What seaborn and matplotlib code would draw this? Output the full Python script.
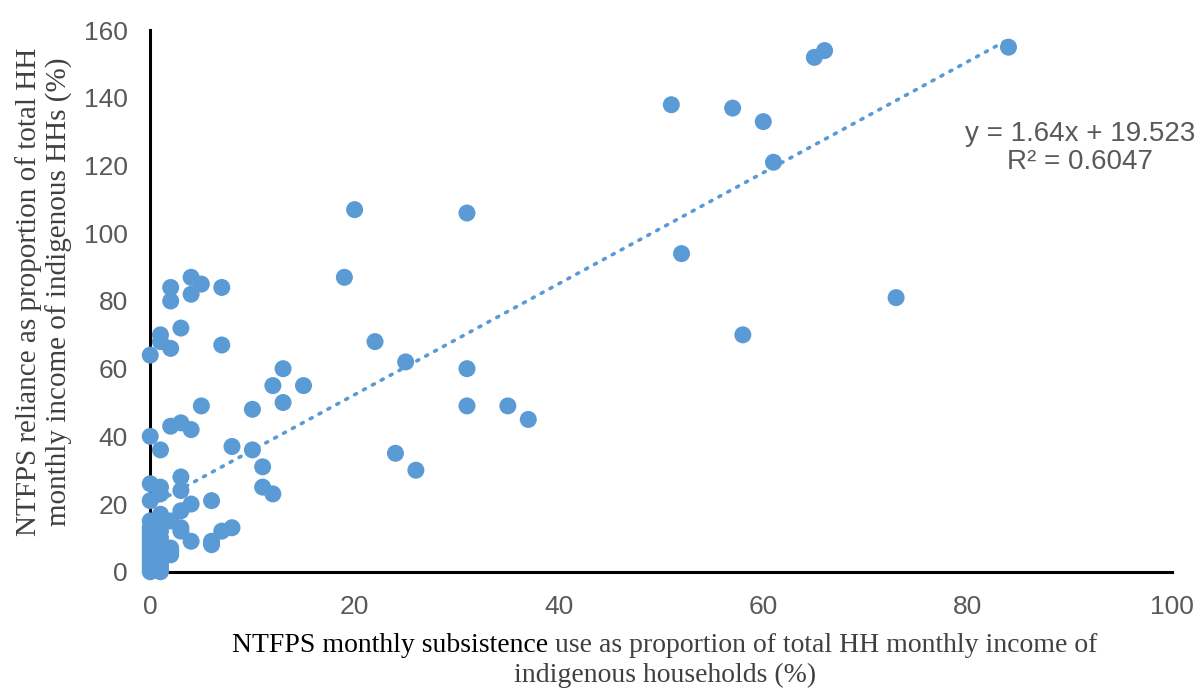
import numpy as np
import pandas as pd
import matplotlib
matplotlib.use("Agg")
import matplotlib.pyplot as plt
import seaborn as sns

# Subsistence use (% of HH monthly income) per household
subsistence = [
    84, 66, 65, 51, 57, 60, 61, 20, 31, 52, 19, 73, 58, 22, 25, 13, 31, 15, 12, 13,
    31, 35, 37, 10, 5, 8, 10, 24, 26, 11, 11, 12, 6, 8, 7, 6, 6,
    4, 2, 5, 7, 4, 2, 3, 1, 1, 2, 0, 7,
    2, 3, 4, 0, 1, 3, 0, 1, 3, 0, 1, 4, 3, 1, 2, 3, 4,
    0, 0, 0, 0, 0, 0, 0, 0, 0, 0, 0, 0, 0, 0, 0,
    1, 1, 1, 1, 1, 1, 1, 1, 1, 1, 1, 1,
    2, 2, 2, 3,
]
# NTFPS reliance (% of HH monthly income) per household
reliance = [
    155, 154, 152, 138, 137, 133, 121, 107, 106, 94, 87, 81, 70, 68, 62, 60, 60, 55, 55, 50,
    49, 49, 45, 48, 49, 37, 36, 35, 30, 31, 25, 23, 21, 13, 12, 9, 8,
    87, 84, 85, 84, 82, 80, 72, 70, 68, 66, 64, 67,
    43, 44, 42, 40, 36, 28, 26, 25, 24, 21, 23, 20, 18, 17, 15, 13, 9,
    0, 1, 2, 3, 4, 5, 6, 7, 8, 9, 10, 11, 12, 13, 15,
    0, 1, 2, 3, 4, 5, 6, 7, 8, 10, 12, 14,
    5, 6, 7, 12,
]

# Linear trend reported on the chart
slope, intercept, r2 = 1.64, 19.523, 0.6047

x_ticks = [0, 20, 40, 60, 80, 100]
y_ticks = [0, 20, 40, 60, 80, 100, 120, 140, 160]

df = pd.DataFrame({"subsistence": subsistence, "reliance": reliance})

sns.set_theme(style="white")
plt.rcParams["font.family"] = ["Liberation Sans", "DejaVu Sans"]

blue = "#5B9BD5"
tick_grey = "#595959"

fig = plt.figure(figsize=(12.02, 6.88), dpi=100)
ax = fig.add_axes([0.125, 0.169, 0.85, 0.787])

sns.scatterplot(data=df, x="subsistence", y="reliance", ax=ax, color=blue,
                s=150, edgecolor="none", linewidth=0, alpha=1, zorder=4,
                clip_on=False)

xs = np.array([0, max(subsistence)])
ax.plot(xs, slope * xs + intercept, color=blue, linewidth=2.6,
        linestyle=(0, (0.6, 2.2)), dash_capstyle="round", zorder=3)

ax.set_xlim(0, 100)
ax.set_ylim(0, 160)
ax.set_xticks(x_ticks)
ax.set_yticks(y_ticks)
ax.tick_params(axis="both", length=0, labelsize=19, labelcolor=tick_grey)
ax.tick_params(axis="x", pad=17)
ax.tick_params(axis="y", pad=16)
ax.set_xlabel("")
ax.set_ylabel("")

for side in ("top", "right"):
    ax.spines[side].set_visible(False)
for side in ("left", "bottom"):
    ax.spines[side].set_color("black")
    ax.spines[side].set_linewidth(2.2)
    ax.spines[side].set_zorder(2)

# Trendline equation
fig.text(1080 / 1202, 1 - 148 / 688,
         f"y = {slope}x + {intercept}\nR² = {r2}",
         ha="center", va="center", multialignment="center",
         fontsize=20, color=tick_grey, linespacing=1.08)

# Axis titles in a serif face
serif = ["Liberation Serif", "DejaVu Serif"]
label_grey = "#404040"

fig.text(44 / 1202, 1 - 292 / 688,
         "NTFPS reliance as proportion of total HH\nmonthly income of indigenous HHs (%)",
         rotation=90, ha="center", va="center", multialignment="center",
         family=serif, fontsize=21, color=label_grey, linespacing=1.22)

# X title: first words in black, remainder in grey, centred as one line
part_a = "NTFPS monthly subsistence"
part_b = " use as proportion of total HH monthly income of"
fig.canvas.draw()
renderer = fig.canvas.get_renderer()
ta = fig.text(0, 0, part_a, family=serif, fontsize=20, color="black")
tb = fig.text(0, 0, part_b, family=serif, fontsize=20, color=label_grey)
wa = ta.get_window_extent(renderer).width
wb = tb.get_window_extent(renderer).width
W = fig.bbox.width
cx = 665
y1 = 1 - 645 / 688
start = cx - (wa + wb) / 2
ta.set_position((start / W, y1))
ta.set_va("center")
tb.set_position(((start + wa) / W, y1))
tb.set_va("center")
fig.text(cx / W, 1 - 675 / 688, "indigenous households (%)", ha="center",
         va="center", family=serif, fontsize=20, color=label_grey)

fig.savefig("out.png", dpi=100, facecolor="white")
